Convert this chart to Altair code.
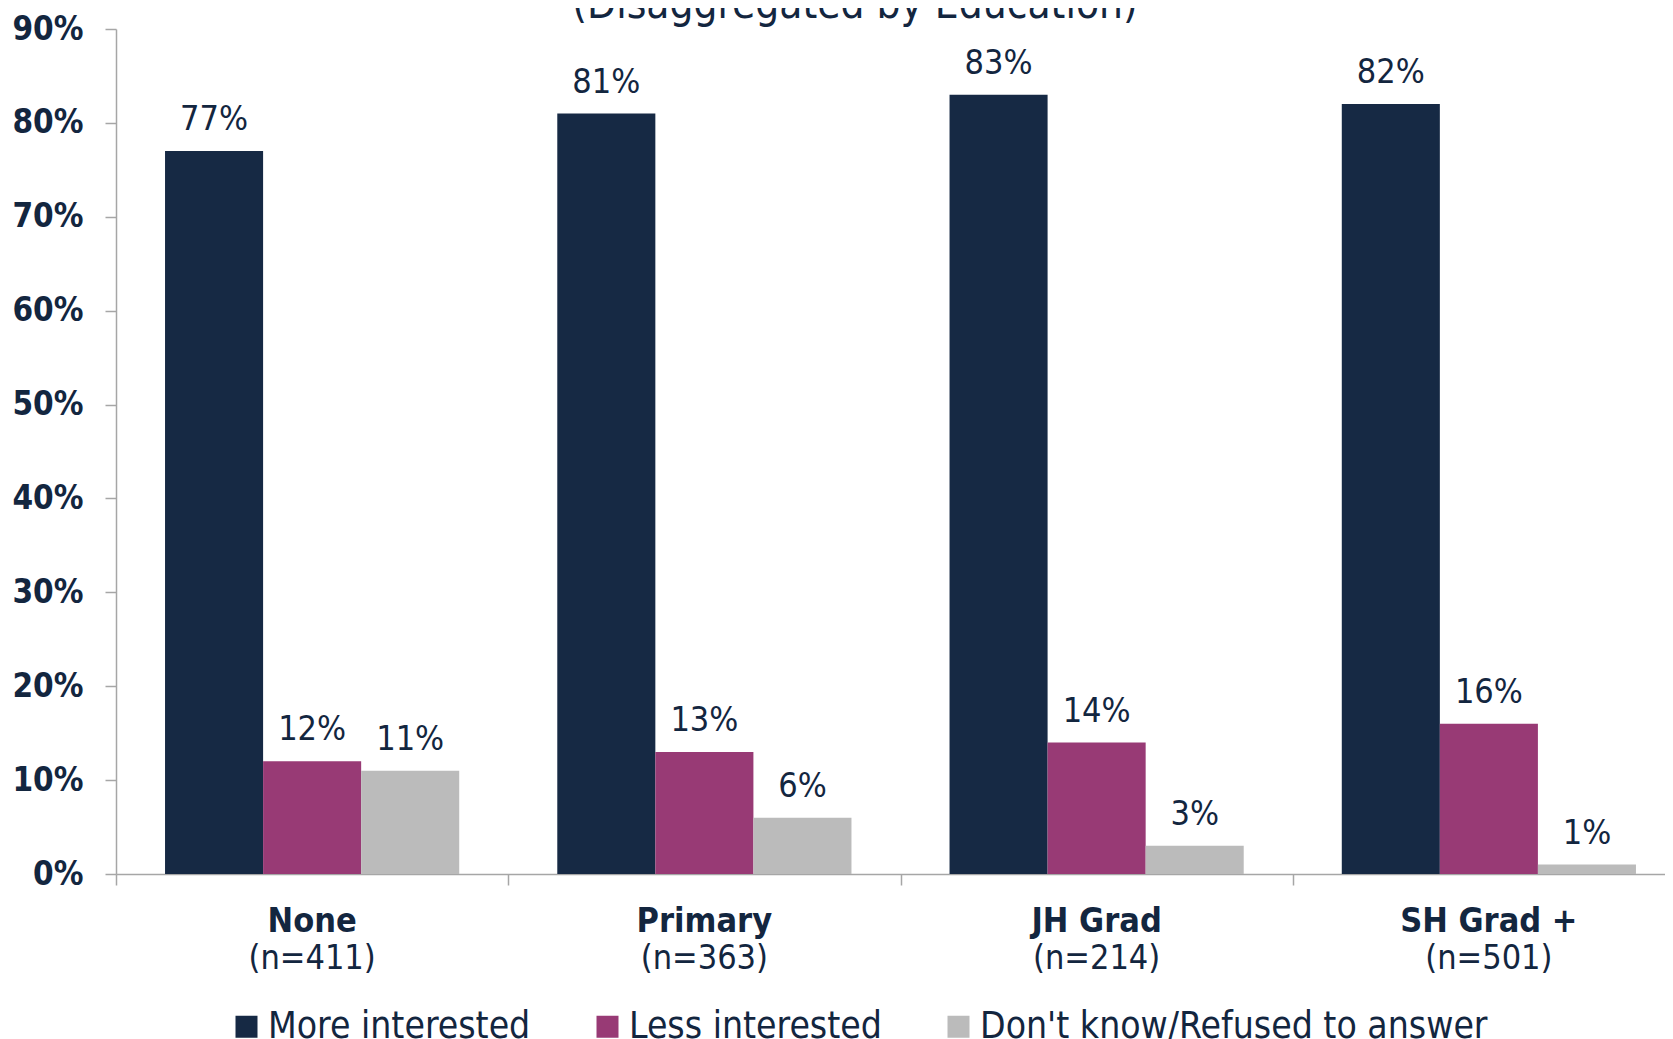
import altair as alt
import pandas as pd

categories = ["None", "Primary", "JH Grad", "SH Grad +"]
sample_sizes = ["(n=411)", "(n=363)", "(n=214)", "(n=501)"]
series = ["More interested", "Less interested", "Don't know/Refused to answer"]
more_interested = [0.77, 0.81, 0.83, 0.82]
less_interested = [0.12, 0.13, 0.14, 0.16]
dont_know = [0.11, 0.06, 0.03, 0.01]
colors = ["#162944", "#983A75", "#BBBBBB"]
title_text = "(Disaggregated by Education)"
y_ticks = [0, 0.1, 0.2, 0.3, 0.4, 0.5, 0.6, 0.7, 0.8, 0.9]

FONT = "DejaVu Sans Condensed, Liberation Sans Narrow, DejaVu Sans, sans-serif"
TEXT = "#13263F"
GREY = "#A6A6A6"
W, H = 1549, 845

rows = []
for i, c in enumerate(categories):
    for s, vals in zip(series, [more_interested, less_interested, dont_know]):
        rows.append({"Education": c, "Series": s, "Value": vals[i]})
df = pd.DataFrame(rows)
cat_df = pd.DataFrame({"Education": categories, "N": sample_sizes})
title_df = pd.DataFrame({"t": [title_text]})

x_enc = alt.X(
    "Education:N",
    sort=categories,
    scale=alt.Scale(range=[0, 1569], paddingInner=0, paddingOuter=0),
    axis=alt.Axis(title=None, labels=False, tickBand="extent", tickSize=11,
                  domainColor=GREY, tickColor=GREY, domainWidth=1.5, tickWidth=1.5),
)
xoff = alt.XOffset("Series:N", sort=series,
                   scale=alt.Scale(paddingInner=0, paddingOuter=0.5))
y_enc = alt.Y(
    "Value:Q",
    scale=alt.Scale(domain=[0, 0.9], nice=False),
    axis=alt.Axis(format=".0%", values=y_ticks, title=None, grid=False,
                  labelFontWeight="bold", labelFontSize=33, labelColor=TEXT,
                  labelFont=FONT, labelPadding=22, tickSize=11,
                  domainColor=GREY, tickColor=GREY, domainWidth=1.5, tickWidth=1.5),
)

bars = alt.Chart(df).mark_bar().encode(
    x=x_enc,
    xOffset=xoff,
    y=y_enc,
    color=alt.Color(
        "Series:N",
        sort=series,
        scale=alt.Scale(domain=series, range=colors),
        legend=alt.Legend(
            orient="none", legendX=112, legendY=979, direction="horizontal",
            title=None, symbolType="square", symbolSize=484, symbolStrokeWidth=0,
            labelFontSize=37, labelFont=FONT, labelColor=TEXT, labelLimit=800,
            labelOffset=3, columnPadding=58,
        ),
    ),
)

values = alt.Chart(df).mark_text(
    dy=-21, baseline="alphabetic", fontSize=34, font=FONT, color=TEXT
).encode(
    x=alt.X("Education:N", sort=categories),
    xOffset=alt.XOffset("Series:N", sort=series),
    y="Value:Q",
    text=alt.Text("Value:Q", format=".0%"),
)

cat_names = alt.Chart(cat_df).mark_text(
    baseline="middle", fontSize=34, fontWeight="bold", font=FONT, color=TEXT
).encode(
    x=alt.X("Education:N", sort=categories),
    y=alt.value(H + 48),
    text="Education:N",
)

cat_n = alt.Chart(cat_df).mark_text(
    baseline="middle", fontSize=34, font=FONT, color=TEXT
).encode(
    x=alt.X("Education:N", sort=categories),
    y=alt.value(H + 85),
    text="N:N",
)

title = alt.Chart(title_df).mark_text(
    baseline="alphabetic", fontSize=42, font=FONT, color=TEXT
).encode(
    x=alt.value(739),
    y=alt.value(-11),
    text="t:N",
)

chart = alt.layer(bars, values, cat_names, cat_n, title).properties(
    width=W,
    height=H,
    autosize=alt.AutoSizeParams(type="none"),
    padding={"left": 108, "top": 21, "right": 0, "bottom": 165},
).configure(font=FONT).configure_view(stroke="transparent", strokeWidth=0)

chart.save("out.html", embed_options={"renderer": "svg", "actions": False})
